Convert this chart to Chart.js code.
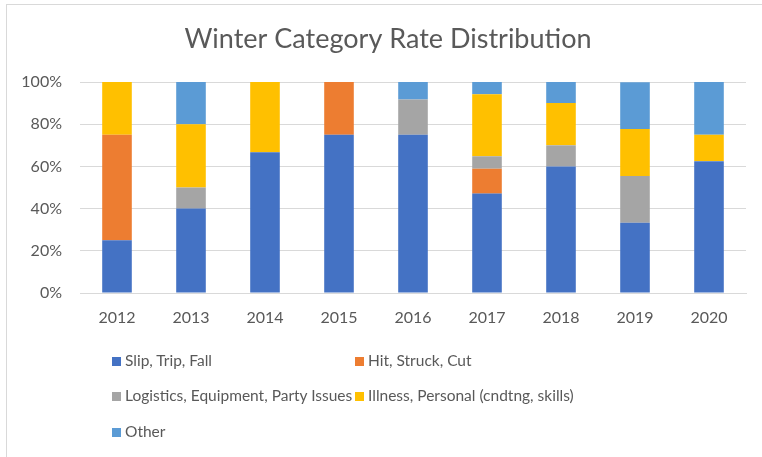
<!DOCTYPE html>
<html>
<head>
<meta charset="utf-8">
<script src="https://cdn.jsdelivr.net/npm/chart.js@4"></script>
<style>
    html, body { margin: 0; padding: 0; background: #fff; }
    #wrap { position: relative; width: 762px; height: 457px; overflow: hidden; }
    #frame { position: absolute; left: 6px; top: 4px; width: 800px; height: 500px; border: 1px solid #d9d9d9; box-sizing: border-box; }
    canvas { position: absolute; left: 0; top: 0; }
    #legend { position: absolute; left: 112px; top: 350px; width: 600px; font-family: Lato, sans-serif; font-size: 15.5px; color: #595959; }
    .item { position: absolute; height: 20px; line-height: 20px; white-space: nowrap; }
    .box { display: inline-block; width: 9px; height: 9px; margin-right: 4px; vertical-align: 0px; }
</style>
</head>
<body>
<div id="wrap">
    <div id="frame"></div>
    <canvas id="chart" width="762" height="457"></canvas>
    <div id="legend"></div>
</div>
<script>
// --- DATA ---
const years = ['2012', '2013', '2014', '2015', '2016', '2017', '2018', '2019', '2020'];
const slipTripFall = [25, 40, 66.7, 75, 75, 47.1, 60, 33.3, 62.5];
const hitStruckCut = [50, 0, 0, 25, 0, 11.8, 0, 0, 0];
const logistics    = [0, 10, 0, 0, 16.7, 5.9, 10, 22.2, 0];
const illness      = [25, 30, 33.3, 0, 0, 29.4, 20, 22.2, 12.5];
const other        = [0, 20, 0, 0, 8.3, 5.9, 10, 22.2, 25];
const seriesNames  = ['Slip, Trip, Fall', 'Hit, Struck, Cut', 'Logistics, Equipment, Party Issues', 'Illness, Personal (cndtng, skills)', 'Other'];
const seriesColors = ['#4472C4', '#ED7D31', '#A5A5A5', '#FFC000', '#5B9BD5'];
const yTicks = [0, 20, 40, 60, 80, 100];

const textColor = '#595959';
const font = 'Lato, sans-serif';

// the y labels reach left of the axis box, so widen its clip area after layout
const widenYAxis = {
    id: 'widenYAxis',
    afterLayout(chart) { chart.scales.y.left = 0; }
};

document.addEventListener('DOMContentLoaded', () => {
    const seriesValues = [slipTripFall, hitStruckCut, logistics, illness, other];
    const datasets = seriesValues.map((vals, i) => ({
        label: seriesNames[i],
        data: vals,
        backgroundColor: seriesColors[i],
        borderWidth: 0,
        categoryPercentage: 1,
        barPercentage: 0.4
    }));

    const ctx = document.getElementById('chart').getContext('2d');
    const chart = new Chart(ctx, {
        type: 'bar',
        data: { labels: years, datasets: datasets },
        plugins: [widenYAxis],
        options: {
            responsive: false,
            animation: false,
            // left padding 30 keeps the title centred where Excel put it
            layout: { padding: { left: 30, right: 16, top: 0, bottom: 124 } },
            plugins: {
                legend: { display: false },
                tooltip: { enabled: false },
                title: {
                    display: true,
                    text: 'Winter Category Rate Distribution',
                    color: textColor,
                    font: { family: font, size: 27, weight: 'normal' },
                    padding: { top: 23, bottom: 26.6 }
                }
            },
            scales: {
                x: {
                    stacked: true,
                    grid: { display: false, drawTicks: false },
                    border: { display: true, color: '#d9d9d9', width: 1 },
                    ticks: { color: textColor, font: { family: font, size: 16 }, padding: 15 },
                    afterFit: s => { s.height = 40; }
                },
                y: {
                    stacked: true,
                    min: 0,
                    max: 100,
                    afterBuildTicks: s => { s.ticks = yTicks.map(v => ({ value: v })); },
                    grid: { color: '#d9d9d9', lineWidth: 1, drawTicks: false },
                    border: { display: false },
                    ticks: { color: textColor, font: { family: font, size: 16 }, padding: 18, callback: v => v + '%' },
                    afterFit: s => { s.width = 50; }
                }
            }
        }
    });

    // --- HTML LEGEND (two columns, like the Excel one) ---
    const legend = document.getElementById('legend');
    const colX = [0, 243];
    const rowY = [0, 35, 71];
    chart.data.datasets.forEach((ds, i) => {
        const item = document.createElement('div');
        item.className = 'item';
        item.style.left = colX[i % 2] + 'px';
        item.style.top = rowY[Math.floor(i / 2)] + 'px';
        item.innerHTML = `<span class="box" style="background:${ds.backgroundColor}"></span>${ds.label}`;
        legend.appendChild(item);
    });
});
</script>
</body>
</html>
